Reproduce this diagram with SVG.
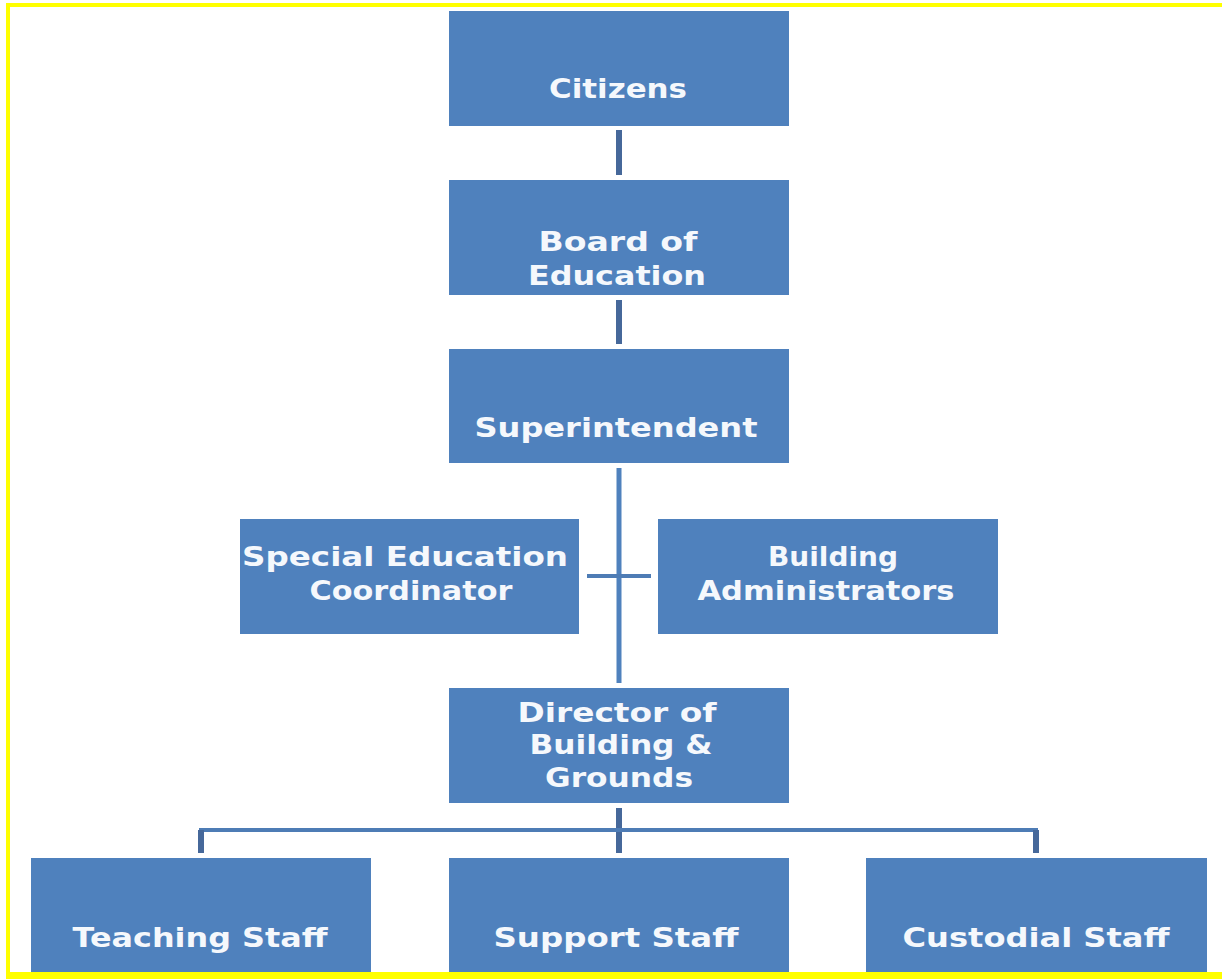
<svg xmlns="http://www.w3.org/2000/svg" width="1222" height="979" viewBox="0 0 1222 979">
<style>
.box{fill:#4F81BD;}
.t{font-family:"DejaVu Sans","Liberation Sans",sans-serif;font-weight:bold;font-size:26px;fill:#F5F8FC;text-anchor:middle;}
.frame{fill:#FFFF00;}
.c1{stroke:#46689A;stroke-width:6;fill:none;}
.c2{stroke:#4F81BD;stroke-width:5;fill:none;}
.c3{stroke:#4E7CB5;stroke-width:4;fill:none;}
</style>
<rect x="0" y="0" width="1222" height="979" fill="#FFFFFF"/>
<g id="frame">
<rect class="frame" x="6" y="3" width="1216" height="4"/>
<rect class="frame" x="6" y="3" width="4" height="976"/>
<rect class="frame" x="6" y="972" width="1216" height="7"/>
</g>
<g id="connectors">
<line class="c1" x1="619" y1="130" x2="619" y2="175"/>
<line class="c1" x1="619" y1="300" x2="619" y2="344"/>
<line class="c2" x1="619" y1="468" x2="619" y2="683"/>
<line class="c3" x1="587" y1="576" x2="651" y2="576"/>
<line class="c1" x1="619" y1="808" x2="619" y2="853"/>
<path class="c3" d="M201 853 V830 H1036 V853"/>
<line class="c1" x1="201" y1="830" x2="201" y2="853"/>
<line class="c1" x1="1036" y1="830" x2="1036" y2="853"/>
</g>
<g id="citizens">
<rect class="box" x="449" y="11" width="340" height="115"/>
<text class="t" x="618" y="98" textLength="138" lengthAdjust="spacingAndGlyphs">Citizens</text>
</g>
<g id="board">
<rect class="box" x="449" y="180" width="340" height="115"/>
<text class="t" x="618" y="251" textLength="159" lengthAdjust="spacingAndGlyphs">Board of</text>
<text class="t" x="617" y="285" textLength="178" lengthAdjust="spacingAndGlyphs">Education</text>
</g>
<g id="superintendent">
<rect class="box" x="449" y="349" width="340" height="114"/>
<text class="t" x="616" y="437" textLength="283" lengthAdjust="spacingAndGlyphs">Superintendent</text>
</g>
<g id="special-ed">
<rect class="box" x="240" y="519" width="339" height="115"/>
<text class="t" x="405" y="566" textLength="326" lengthAdjust="spacingAndGlyphs">Special Education</text>
<text class="t" x="411" y="600" textLength="203" lengthAdjust="spacingAndGlyphs">Coordinator</text>
</g>
<g id="building-admin">
<rect class="box" x="658" y="519" width="340" height="115"/>
<text class="t" x="833" y="566" textLength="130" lengthAdjust="spacingAndGlyphs">Building</text>
<text class="t" x="826" y="600" textLength="257" lengthAdjust="spacingAndGlyphs">Administrators</text>
</g>
<g id="director">
<rect class="box" x="449" y="688" width="340" height="115"/>
<text class="t" x="617" y="722" textLength="199" lengthAdjust="spacingAndGlyphs">Director of</text>
<text class="t" x="621" y="754" textLength="183" lengthAdjust="spacingAndGlyphs">Building &amp;</text>
<text class="t" x="619" y="787" textLength="148" lengthAdjust="spacingAndGlyphs">Grounds</text>
</g>
<g id="teaching">
<rect class="box" x="31" y="858" width="340" height="114"/>
<text class="t" x="200" y="947" textLength="255" lengthAdjust="spacingAndGlyphs">Teaching Staff</text>
</g>
<g id="support">
<rect class="box" x="449" y="858" width="340" height="114"/>
<text class="t" x="616" y="947" textLength="245" lengthAdjust="spacingAndGlyphs">Support Staff</text>
</g>
<g id="custodial">
<rect class="box" x="866" y="858" width="341" height="114"/>
<text class="t" x="1036" y="947" textLength="267" lengthAdjust="spacingAndGlyphs">Custodial Staff</text>
</g>
</svg>
